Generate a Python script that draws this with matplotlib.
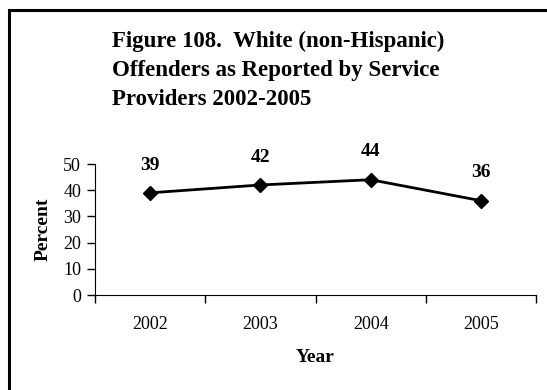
import matplotlib
matplotlib.use("Agg")
import matplotlib.pyplot as plt
from matplotlib.patches import Rectangle

years = ["2002", "2003", "2004", "2005"]
percent = [39, 42, 44, 36]
y_ticks = [0, 10, 20, 30, 40, 50]
title = "Figure 108.  White (non-Hispanic)\nOffenders as Reported by Service\nProviders 2002-2005"

plt.rcParams["font.family"] = ["Liberation Serif", "DejaVu Serif"]

W, H = 547, 390
fig = plt.figure(figsize=(W / 100, H / 100), dpi=100)
fig.patch.set_facecolor("white")

# outer frame (runs off the right and bottom edge like the original)
fig.patches.append(Rectangle((8.5 / W, -0.05), 1.1, (H - 9.5) / H + 0.05,
                             transform=fig.transFigure, fill=False,
                             edgecolor="black", linewidth=2.2))

ax = fig.add_axes([95 / W, (H - 295) / H, (536 - 95) / W, (295 - 164) / H])
x = list(range(len(years)))
ax.plot(x, percent, color="black", linewidth=2.0, marker="D", markersize=7.5,
        markerfacecolor="black", markeredgecolor="black", clip_on=False)
for xi, v in zip(x, percent):
    ax.annotate(str(v), (xi, v), xytext=(0, 20), textcoords="offset points",
                ha="center", va="center", fontsize=14, fontweight="bold")

ax.set_xlim(-0.5, len(years) - 0.5)
ax.set_ylim(0, 50)
ax.set_yticks(y_ticks)
# ticks sit between the categories, labels in the middle
ax.set_xticks([i - 0.5 for i in range(len(years) + 1)])
ax.set_xticklabels([])
ax.set_xticks(x, minor=True)
ax.set_xticklabels(years, minor=True)
ax.tick_params(axis="x", which="major", direction="out", length=6, width=1)
ax.tick_params(axis="x", which="minor", length=0, pad=15, labelsize=13)
ax.tick_params(axis="y", direction="out", length=6, width=1, pad=4, labelsize=13)
for s in ("top", "right"):
    ax.spines[s].set_visible(False)
ax.set_ylabel("Percent", fontsize=14, fontweight="bold", labelpad=8)
ax.set_xlabel("Year", fontsize=14, fontweight="bold", labelpad=12)

fig.text(112 / W, (H - 30.5) / H, title, ha="left", va="top", fontsize=16.5,
         fontweight="bold", linespacing=1.5)

fig.savefig("out.png", dpi=100)
